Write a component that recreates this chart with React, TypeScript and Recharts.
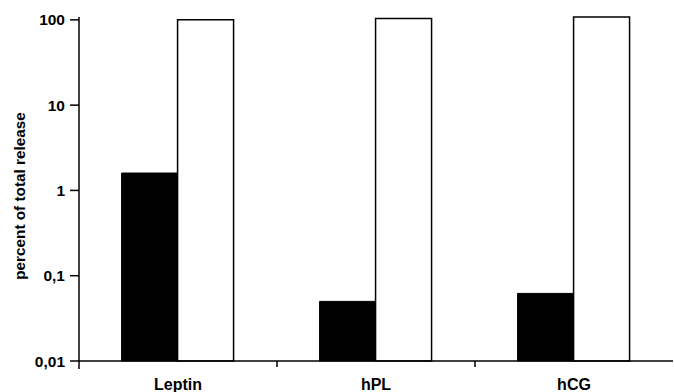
import React from "react";
import { BarChart, Bar, XAxis, YAxis } from "recharts";

const categories = ["Leptin", "hPL", "hCG"];
const blackValues = [1.6, 0.05, 0.062];
const whiteValues = [100, 104, 108];
const yTicks = [0.01, 0.1, 1, 10, 100];
const yTitle = "percent of total release";

const data = categories.map((name, i) => ({
  name,
  black: blackValues[i],
  white: whiteValues[i],
}));

const FONT = '"Liberation Sans", Arial, Helvetica, sans-serif';

const XTick = (props: any) => {
  const { x, y, payload, index, visibleTicksCount } = props;
  const half = payload.offset || 0;
  return (
    <g>
      <text
        x={x}
        y={y + 29}
        textAnchor="middle"
        fontFamily={FONT}
        fontWeight="bold"
        fontSize={16}
        fill="#000"
      >
        {payload.value}
      </text>
      {index === 0 && (
        <line x1={x - half} x2={x - half} y1={y} y2={y + 8} stroke="#000" strokeWidth={1.5} />
      )}
      {index < visibleTicksCount - 1 && (
        <line x1={x + half} x2={x + half} y1={y} y2={y + 6} stroke="#000" strokeWidth={1.5} />
      )}
    </g>
  );
};

const YTitle = (props: any) => {
  const { viewBox } = props;
  const cx = viewBox.x + 19;
  const cy = 196;
  return (
    <text
      x={cx}
      y={cy}
      transform={`rotate(-90, ${cx}, ${cy})`}
      textAnchor="middle"
      dominantBaseline="central"
      fontFamily={FONT}
      fontWeight="bold"
      fontSize={15.3}
      fill="#000"
    >
      {yTitle}
    </text>
  );
};

export default function App() {
  return (
    <div style={{ position: "absolute", left: 0, top: 0, width: 674, height: 392, background: "#fff" }}>
      <BarChart
        width={674}
        height={392}
        data={data}
        margin={{ top: 17, right: 1, bottom: 0, left: 0 }}
        barCategoryGap="21.5%"
        barGap={0}
      >
        <XAxis
          dataKey="name"
          height={31}
          axisLine={{ stroke: "#000", strokeWidth: 1.5 }}
          tickLine={false}
          tickSize={0}
          tickMargin={0}
          tick={<XTick />}
          interval={0}
        />
        <YAxis
          type="number"
          scale="log"
          domain={[0.01, "dataMax"]}
          ticks={yTicks}
          interval={0}
          width={79}
          axisLine={{ stroke: "#000", strokeWidth: 1.5 }}
          tickLine={{ stroke: "#000", strokeWidth: 1.5 }}
          tickSize={9}
          tickMargin={5}
          tick={{ fill: "#000", fontFamily: FONT, fontWeight: "bold", fontSize: 15.5 }}
          tickFormatter={(v: number) => String(v).replace(".", ",")}
          label={<YTitle />}
        />
        <Bar dataKey="black" fill="#000" stroke="#000" strokeWidth={1} isAnimationActive={false} />
        <Bar dataKey="white" fill="#fff" stroke="#000" strokeWidth={1.5} isAnimationActive={false} />
      </BarChart>
    </div>
  );
}
